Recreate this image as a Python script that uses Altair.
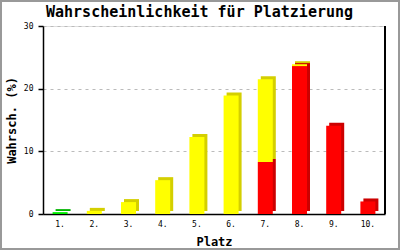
import altair as alt
import pandas as pd

places = ["1.", "2.", "3.", "4.", "5.", "6.", "7.", "8.", "9.", "10."]
green = [0.3, 0, 0, 0, 0, 0, 0, 0, 0, 0]
yellow = [0, 0.5, 1.9, 5.4, 12.3, 18.9, 13.2, 0.3, 0, 0]
red = [0, 0, 0, 0, 0, 0, 8.3, 23.6, 14.1, 2.0]
y_ticks = [0, 10, 20, 30]

series = ["rot", "gelb", "grün"]
front_colors = ["#ff0000", "#ffff00", "#00ee00"]
back_colors = ["#cc0000", "#d4cf00", "#00b400"]

rows = []
for i, p in enumerate(places):
    for o, (s, vals) in enumerate(zip(series, [red, yellow, green])):
        if vals[i] > 0:
            rows.append({"Platz": p, "Serie": s, "Wert": vals[i], "Ordnung": o})
df = pd.DataFrame(rows)

W, H = 342, 188
FONT = "DejaVu Sans Mono"

x_enc = alt.X(
    "Platz:N", sort=places,
    scale=alt.Scale(paddingInner=0, paddingOuter=0),
    axis=alt.Axis(title="Platz", labelAngle=0, ticks=False, domainColor="black",
                  domainWidth=1.5, labelFont=FONT, labelFontSize=8, labelColor="black",
                  labelPadding=6, titleFont=FONT, titleFontSize=12, titleFontWeight="bold",
                  titleColor="black", titlePadding=8, grid=False),
)
y_enc = alt.Y(
    "sum(Wert):Q", stack="zero",
    scale=alt.Scale(domain=[0, 30], nice=False),
    axis=alt.Axis(title="Wahrsch. (%)", values=y_ticks, format="d", domainColor="black",
                  domainWidth=1.5, tickColor="black", tickSize=5, tickWidth=1.5,
                  labelFont=FONT, labelFontSize=8, labelColor="black", labelPadding=5,
                  titleFont=FONT, titleFontSize=12, titleFontWeight="bold",
                  titleColor="black", titlePadding=5,
                  grid=True, gridColor="#bbbbbb", gridDash=[3, 4], gridWidth=1),
)

back = alt.Chart(df).mark_bar(size=15, xOffset=3, yOffset=-3, y2Offset=-3).encode(
    x=x_enc, y=y_enc,
    color=alt.Color("Serie:N", scale=alt.Scale(domain=series, range=back_colors), legend=None),
    order=alt.Order("Ordnung:Q"),
)
front = alt.Chart(df).mark_bar(size=15).encode(
    x=x_enc, y=y_enc,
    color=alt.Color("Serie:N", scale=alt.Scale(domain=series, range=front_colors), legend=None),
    order=alt.Order("Ordnung:Q"),
)
right_line = alt.Chart(df).mark_rule(color="black", strokeWidth=1.5).encode(
    x=alt.value(W), y=alt.value(0), y2=alt.value(H)
)
frame = alt.Chart(df).mark_rect(fillOpacity=0, stroke="#999999", strokeWidth=2).encode(
    x=alt.value(-42), x2=alt.value(356), y=alt.value(-25), y2=alt.value(223)
)

chart = alt.layer(back, front, right_line, frame).resolve_scale(
    color="independent"
).properties(
    width=W, height=H,
    title=alt.Title("Wahrscheinlichkeit für Platzierung", font=FONT, fontSize=15,
                    fontWeight="bold", color="black", anchor="middle",
                    offset=-18, dy=14, dx=-14.5, baseline="alphabetic"),
    padding={"left": 43, "top": 26, "right": 15, "bottom": 36},
    autosize="none",
).configure_view(stroke=None).configure(background="white")

chart.save("out.html", embed_options={"renderer": "svg", "actions": False})
